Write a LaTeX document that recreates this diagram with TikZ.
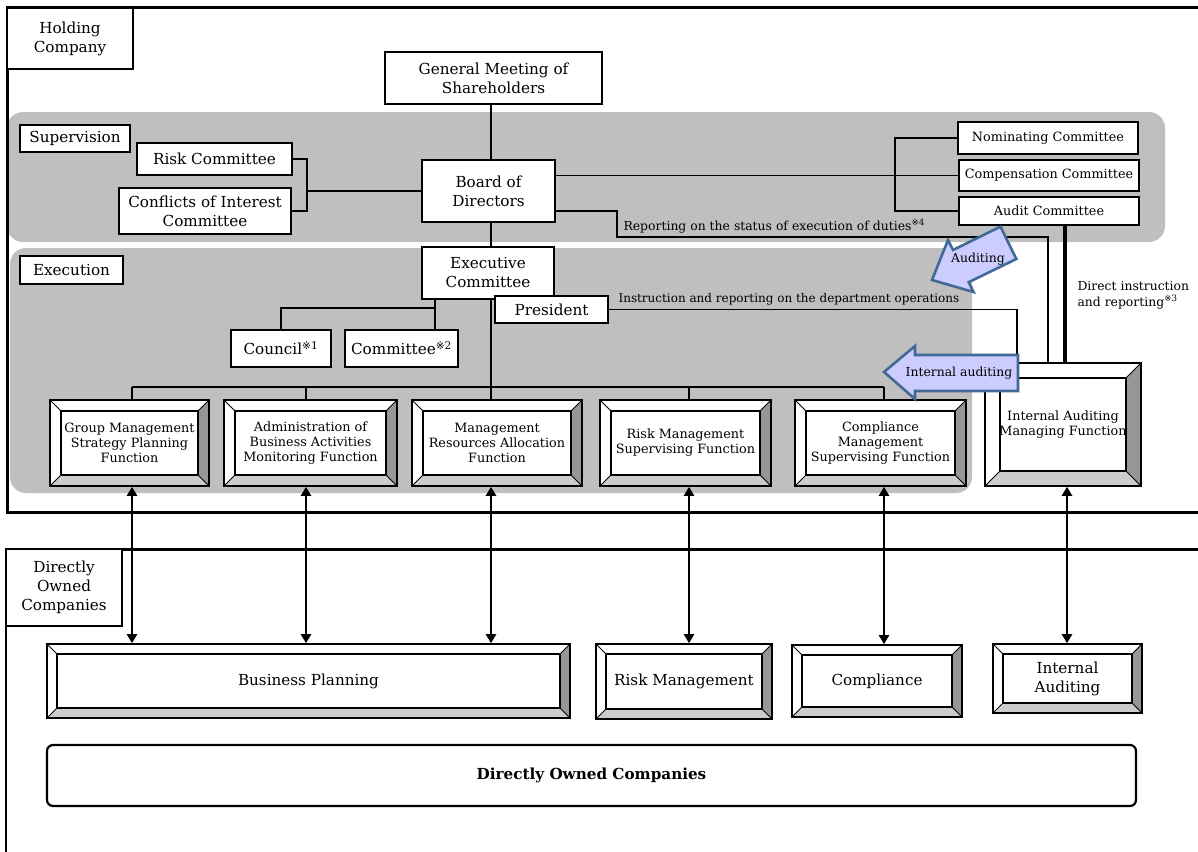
\documentclass[tikz,border=0pt]{standalone}
\usepackage{fontspec}
\setmainfont{DejaVu Serif}
\newfontfamily\marksymfont{DejaVu Sans}
\usepackage{tikz}
\usetikzlibrary{arrows.meta}

\definecolor{regiongray}{RGB}{191,191,191}
\definecolor{bevdark}{RGB}{150,150,150}
\definecolor{bevlight}{RGB}{204,204,204}
\definecolor{arrowfill}{RGB}{204,204,255}
\definecolor{arrowline}{RGB}{65,105,150}

\newcommand{\bigfnt}{\fontsize{15.2}{19}\selectfont}
\newcommand{\midfnt}{\fontsize{12.8}{15}\selectfont}
\newcommand{\smallfnt}{\fontsize{12.4}{16}\selectfont}
\newcommand{\refmark}[1]{\textsuperscript{{\marksymfont ※}#1}}

\begin{document}
\begin{tikzpicture}[x=1pt, y=-1pt,
    box/.style={draw, line width=2.6pt, fill=white, inner sep=1pt, align=center, font=\bigfnt},
    thinbox/.style={box, line width=1.6pt},
    funcbox/.style={draw, line width=1.6pt, fill=white, inner sep=1pt, align=center, font=\midfnt,
      path picture={
        \coordinate (pnw) at (path picture bounding box.north west);
        \coordinate (pne) at (path picture bounding box.north east);
        \coordinate (psw) at (path picture bounding box.south west);
        \coordinate (pse) at (path picture bounding box.south east);
        \fill[bevdark] (pne) -- (pse) -- ([xshift=-#1,yshift=#1]pse) -- ([xshift=-#1,yshift=-#1]pne) -- cycle;
        \fill[bevlight] (psw) -- (pse) -- ([xshift=-#1,yshift=#1]pse) -- ([xshift=#1,yshift=#1]psw) -- cycle;
        \draw[line width=0.9pt] (pnw) -- ([xshift=#1,yshift=-#1]pnw);
        \draw[line width=0.9pt] (pne) -- ([xshift=-#1,yshift=-#1]pne);
        \draw[line width=0.9pt] (psw) -- ([xshift=#1,yshift=#1]psw);
        \draw[line width=0.9pt] (pse) -- ([xshift=-#1,yshift=#1]pse);
        \draw[line width=2.2pt] ([xshift=#1,yshift=-#1]pnw) rectangle ([xshift=-#1,yshift=#1]pse);
      }},
    funcbox/.default=11pt,
    link/.style={line width=1.8pt},
    dbl/.style={line width=2.8pt, {Triangle[width=10pt,length=9pt]}-{Triangle[width=10pt,length=9pt]}},
    blockarrow/.style={draw=arrowline, fill=arrowfill, line width=2.6pt, line join=miter}]

      \useasboundingbox (0,0) rectangle (1198,851);
      \clip (0,0) rectangle (1198,851);

      \fill[regiongray, rounded corners=16pt] (7,112) rectangle (1165,242);
      \fill[regiongray, rounded corners=16pt] (10,248) rectangle (972,493);

      \draw[line width=3pt] (1205,8) -- (7,8) -- (7,512) -- (1205,512);
      \draw[line width=3pt] (1205,549) -- (6,549);
      \draw[line width=2pt] (6,549) -- (6,860);

      \node[box, minimum width=126pt, minimum height=61pt] (hc) at (70,38.5) {Holding\\Company};
      \node[box, minimum width=217pt, minimum height=52pt] (gm) at (493.5,78) {General Meeting of\\Shareholders};
      \node[thinbox, minimum width=110pt, minimum height=27pt] (sup) at (75,138.5) {Supervision};
      \node[box, minimum width=155pt, minimum height=32pt] (rc) at (214.5,159) {Risk Committee};
      \node[box, minimum width=172pt, minimum height=46pt] (coi) at (205,211) {Conflicts of Interest\\Committee};
      \node[box, minimum width=133pt, minimum height=62pt] (bod) at (488.5,191) {Board of\\Directors};
      \node[box, font=\midfnt, minimum width=180pt, minimum height=32pt] (nom) at (1048,138) {Nominating Committee};
      \node[box, font=\midfnt, minimum width=180pt, minimum height=31pt] (comp) at (1049,175.5) {Compensation Committee};
      \node[box, font=\midfnt, minimum width=180pt, minimum height=28pt] (aud) at (1049,211) {Audit Committee};

      \node[thinbox, minimum width=103pt, minimum height=28pt] (exe) at (71.5,270) {Execution};
      \node[box, minimum width=132pt, minimum height=52pt] (ec) at (488,273) {Executive\\Committee};
      \node[thinbox, line width=2pt, minimum width=113pt, minimum height=27pt] (pres) at (551.5,309.5) {President};
      \node[box, minimum width=100pt, minimum height=37pt] (cou) at (281,348.5) {Council\refmark{1}};
      \node[box, minimum width=113pt, minimum height=37pt] (com) at (401.5,348.5) {Committee\refmark{2}};

      \node[funcbox, minimum width=159pt, minimum height=86pt] (f1) at (129.5,443) {Group Management\\Strategy Planning\\Function};
      \node[funcbox, minimum width=173pt, minimum height=86pt] (f2) at (310.5,443) {Administration of\\Business Activities\\Monitoring Function};
      \node[funcbox, minimum width=170pt, minimum height=86pt] (f3) at (497,443) {Management\\Resources Allocation\\Function};
      \node[funcbox, minimum width=171pt, minimum height=86pt] (f4) at (685.5,443) {Risk Management\\Supervising Function};
      \node[funcbox, minimum width=171pt, minimum height=86pt] (f5) at (880.5,443) {Compliance\\Management\\Supervising Function};
      \node[funcbox=15pt, minimum width=156pt, minimum height=123pt] (f6) at (1063,424.5) {Internal Auditing\\Managing Function};

      \node[thinbox, minimum width=116pt, minimum height=77pt] (dl) at (64,587.5) {Directly\\Owned\\Companies};
      \node[funcbox=10pt, font=\bigfnt, minimum width=523pt, minimum height=74pt] (bp) at (308.5,681) {Business Planning};
      \node[funcbox=10pt, font=\bigfnt, minimum width=176pt, minimum height=75pt] (rm) at (684,681.5) {Risk Management};
      \node[funcbox=10pt, font=\bigfnt, minimum width=170pt, minimum height=72pt] (cp) at (877,681) {Compliance};
      \node[funcbox=10pt, font=\bigfnt, minimum width=149pt, minimum height=69pt] (ia) at (1067.5,678.5) {Internal\\Auditing};
      \node[box, line width=2.2pt, rounded corners=6pt, minimum width=1089pt, minimum height=61pt] (doc) at (591.5,775.5) {\textbf{Directly Owned Companies}};

      \coordinate (c1) at (132,0);
      \coordinate (c2) at (306,0);
      \coordinate (c3) at (491,0);
      \coordinate (c4) at (689,0);
      \coordinate (c5) at (884,0);
      \coordinate (c6) at (1067,0);
      \coordinate (bar) at (0,387);
      \coordinate (k) at (435,308);
      \coordinate (lb) at (307,0);
      \coordinate (rb) at (895,0);
      \coordinate (rp) at (1048,237);
      \coordinate (ad) at (1065,0);
      \coordinate (ir) at (1017,0);

      \draw[link] (gm.south -| c3) -- (bod.north -| c3);
      \draw[link] (bod.south -| c3) -- (ec.north -| c3);
      \draw[link] (rc.east) -| (lb |- coi.east) -- (coi.east);
      \draw[link] (bod.west) -- (bod.west -| lb);
      \draw[link] (nom.west) -| (rb |- aud.west) -- (aud.west);
      \draw[link] (bod.east |- comp.west) -- (comp.west);
      \draw[link] ([yshift=-20pt]bod.east) -- ++(61,0) |- (rp) -- (rp |- f6.north);
      \draw[line width=3.5pt] (aud.south -| ad) -- (f6.north -| ad);
      \draw[link] (pres.east) -| (f6.north -| ir);

      \draw[link] (ec.south -| k) -- (com.north -| k);
      \draw[link] (k) -| (cou.north);
      \draw[link] (ec.south -| c3) -- (f3.north -| c3);
      \draw[link] (c1 |- bar) -- (c5 |- bar);
      \foreach \c/\f in {c1/f1, c2/f2, c4/f4, c5/f5}
        \draw[link] (\c |- bar) -- (\f.north -| \c);

      \draw[dbl] (f1.south -| c1) -- (bp.north -| c1);
      \draw[dbl] (f2.south -| c2) -- (bp.north -| c2);
      \draw[dbl] (f3.south -| c3) -- (bp.north -| c3);
      \draw[dbl] (f4.south -| c4) -- (rm.north -| c4);
      \draw[dbl] (f5.south -| c5) -- (cp.north -| c5);
      \draw[dbl] (f6.south -| c6) -- (ia.north -| c6);

      \node[font=\smallfnt, anchor=west] (rptxt) at (620,226) {Reporting on the status of execution of duties\refmark{4}};
      \node[font=\fontsize{12}{16}\selectfont, anchor=west] (irtxt) at (615,299) {Instruction and reporting on the department operations};
      \node[font=\smallfnt, anchor=west, align=left] (ditxt) at (1074,295) {Direct instruction\\and reporting\refmark{3}};

      \draw[blockarrow] (884,372) -- (915,346) -- (915,355) -- (1018,355) -- (1018,391) -- (915,391) -- (915,399) -- cycle;
      \node[font=\smallfnt] (iatxt) at (959,373) {Internal auditing};
      \draw[blockarrow] (932,280) -- (948,240) -- (953,250) -- (1000.5,226.6) -- (1016.3,259) -- (968.7,282.2) -- (973.5,292) -- cycle;
      \node[font=\smallfnt] (autxt) at (978,259) {Auditing};
    \end{tikzpicture}
\end{document}
